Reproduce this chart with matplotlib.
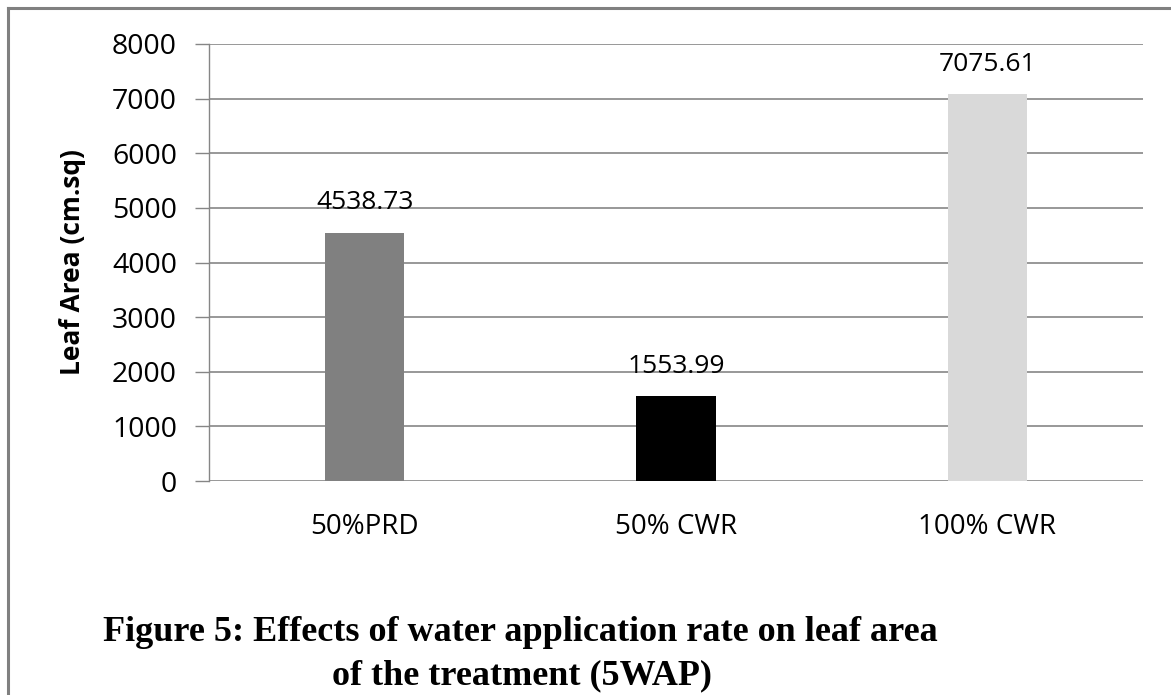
import matplotlib
matplotlib.use("Agg")
import matplotlib.pyplot as plt
from matplotlib.lines import Line2D

categories = ["50%PRD", "50% CWR", "100% CWR"]
values = [4538.73, 1553.99, 7075.61]
value_labels = ["4538.73", "1553.99", "7075.61"]
bar_colors = ["#808080", "#000000", "#d9d9d9"]
yticks = [0, 1000, 2000, 3000, 4000, 5000, 6000, 7000, 8000]

W, H = 1171, 695
fig = plt.figure(figsize=(W/100, H/100), dpi=100)
fig.patch.set_facecolor("white")

# axes: x 209..1143, y 44..481 (pixels from top)
ax = fig.add_axes([209/W, 1-481/H, (1143-209)/W, (481-44)/H])
x = range(len(categories))
ax.bar(x, values, width=0.254, color=bar_colors, zorder=3)
ax.set_xlim(-0.5, 2.5)
ax.set_ylim(0, 8000)
ax.set_yticks(yticks)
ax.set_yticklabels([str(t) for t in yticks], fontsize=20.5, family="Open Sans")
ax.set_xticks(list(x))
ax.set_xticklabels(categories, fontsize=20, family="Open Sans")
ax.tick_params(axis="x", length=0, pad=23)
ax.tick_params(axis="y", length=10, width=1, color="#868686", pad=13)
ax.yaxis.grid(True, color="#868686", linewidth=1.2, zorder=0)
for s in ["top", "right", "bottom"]:
    ax.spines[s].set_visible(False)
ax.spines["left"].set_color("#868686")
ax.spines["left"].set_linewidth(1)

for xi, v, lab in zip(x, values, value_labels):
    ax.annotate(lab, (xi, v), xytext=(0, 17), textcoords="offset points",
                ha="center", va="baseline", fontsize=19, family="Open Sans")

ax.set_ylabel("Leaf Area (cm.sq)", fontsize=19, fontweight="bold",
              family="Open Sans", labelpad=19)

# figure border (top and left visible)
fig.add_artist(Line2D([8/W, 1.0], [1-8/H, 1-8/H], color="#808080", lw=2.2,
                      transform=fig.transFigure))
fig.add_artist(Line2D([8/W, 8/W], [0, 1-8/H], color="#808080", lw=2.2,
                      transform=fig.transFigure))

# caption
fig.text(520/W, 1-641/H, "Figure 5: Effects of water application rate on leaf area",
         ha="center", va="baseline", fontsize=26, fontweight="bold",
         family="Liberation Serif")
fig.text(522/W, 1-684/H, "of the treatment (5WAP)",
         ha="center", va="baseline", fontsize=26, fontweight="bold",
         family="Liberation Serif")

fig.savefig("out.png", dpi=100)
